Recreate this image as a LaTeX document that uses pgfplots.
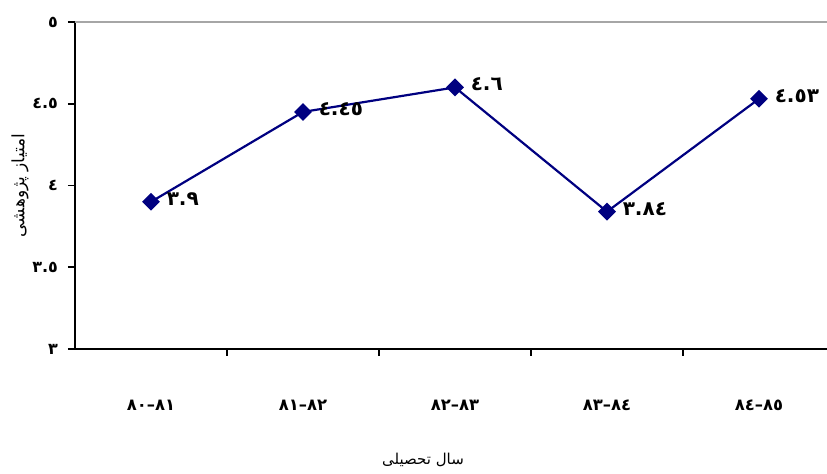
\documentclass[border=0pt]{standalone}
\usepackage{fontspec}
\usepackage{pgfplots}
\pgfplotsset{compat=1.18}
\TeXXeTstate=1
\setmainfont{Liberation Serif}
\newfontfamily\arabicfont[Script=Arabic]{DejaVu Sans}

\definecolor{navyline}{RGB}{0,0,128}

\begin{document}
\begin{tikzpicture}
\useasboundingbox (-37.5pt,-62.5pt) rectangle (376pt,174.5pt);
\begin{axis}[
    scale only axis,
    width=380pt,
    height=163.5pt,
    xmin=-0.5, xmax=4.5,
    ymin=3, ymax=5,
    axis x line*=bottom,
    axis y line*=left,
    axis line style={black, line width=1pt, -},
    xtick={0.5,1.5,2.5,3.5},
    xticklabels={},
    % segments swapped: the Arabic-script font lays the run out right to left
    extra x ticks={0,1,2,3,4},
    extra x tick labels={{\arabicfont\bfseries ٨١–٨٠},{\arabicfont\bfseries ٨٢–٨١},{\arabicfont\bfseries ٨٣–٨٢},{\arabicfont\bfseries ٨٤–٨٣},{\arabicfont\bfseries ٨٥–٨٤}},
    extra x tick style={major tick length=0pt, tick label style={yshift=-22pt}},
    ytick={3,3.5,4,4.5,5},
    yticklabels={{\arabicfont\bfseries ٣},{\arabicfont\bfseries ٣.٥},{\arabicfont\bfseries ٤},{\arabicfont\bfseries ٤.٥},{\arabicfont\bfseries ٥}},
    tick align=outside,
    tick pos=left,
    major tick length=3.5pt,
    tick style={black, line width=0.8pt},
    x tick label style={font=\fontsize{8.2}{9}\selectfont},
    y tick label style={font=\fontsize{8}{9}\selectfont, xshift=-1.5pt},
    xlabel={\arabicfont\beginR سال تحصیلی\endR},
    ylabel={\arabicfont\beginR امتیاز پژوهشی\endR},
    xlabel style={font=\fontsize{7.5}{9}\selectfont, yshift=-11pt, xshift=-16pt},
    ylabel style={font=\fontsize{8.5}{10}\selectfont, yshift=-5pt},
    clip=false,
    point meta=explicit symbolic,
    nodes near coords,
    nodes near coords style={anchor=west, font=\arabicfont\bfseries\fontsize{10}{11}\selectfont, xshift=4pt, yshift=1.5pt, text=black},
]
\draw[gray!70, line width=0.8pt] (axis cs:-0.5,5) -- (axis cs:4.5,5);
\addplot[navyline, line width=1.1pt, mark=square*, mark size=2.6pt, mark options={fill=navyline, draw=navyline, rotate=45, solid}]
    coordinates {
    (0,3.9) [٣.٩]
    (1,4.45) [٤.٤٥]
    (2,4.6) [٤.٦]
    (3,3.84) [٣.٨٤]
    (4,4.53) [٤.٥٣]
};
\end{axis}
\end{tikzpicture}
\end{document}
